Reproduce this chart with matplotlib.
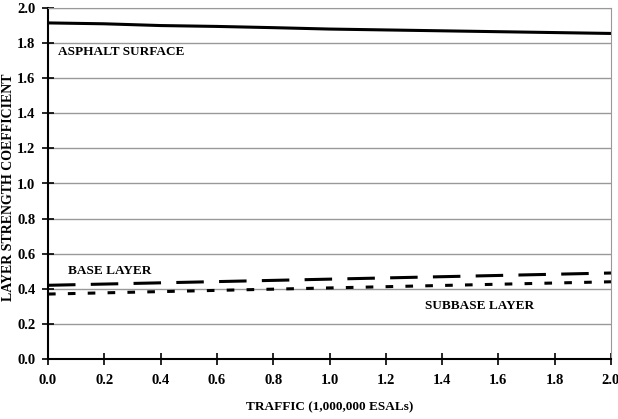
import numpy as np
import matplotlib.pyplot as plt

plt.rcParams['font.family'] = 'Liberation Serif'
plt.rcParams['font.weight'] = 'bold'

traffic = [0.0, 0.2, 0.4, 0.6, 0.8, 1.0, 1.2, 1.4, 1.6, 1.8, 2.0]
asphalt = [1.915, 1.91, 1.90, 1.895, 1.888, 1.880, 1.875, 1.870, 1.865, 1.860, 1.855]
base = [0.42, 0.427, 0.434, 0.441, 0.448, 0.455, 0.462, 0.469, 0.476, 0.483, 0.49]
subbase = [0.37, 0.377, 0.384, 0.391, 0.398, 0.405, 0.412, 0.419, 0.426, 0.433, 0.44]

fig = plt.figure(figsize=(6.18, 4.19), dpi=100)
ax = fig.add_axes([48/618, 1 - 359/419, (611-48)/618, (359-8)/419])

ax.plot(traffic, asphalt, 'k-', lw=2.2)
ax.plot(traffic, base, color='k', lw=2.2, dashes=(9, 5))
ax.plot(traffic, subbase, color='k', lw=2.2, dashes=(2.5, 4))

ax.text(0.036, 1.75, 'ASPHALT SURFACE', fontsize=9.5, fontweight='bold', va='center')
ax.text(0.07, 0.50, 'BASE LAYER', fontsize=9.5, fontweight='bold', va='center')
ax.text(1.34, 0.30, 'SUBBASE LAYER', fontsize=9.5, fontweight='bold', va='center')

ax.set_xlim(0, 2.0)
ax.set_ylim(0, 2.0)
ax.set_xticks(np.arange(0, 2.01, 0.2))
ax.set_yticks(np.arange(0, 2.01, 0.2))
ax.xaxis.set_major_formatter(plt.FormatStrFormatter('%.1f'))
ax.yaxis.set_major_formatter(plt.FormatStrFormatter('%.1f'))
ax.tick_params(direction='inout', length=8, width=1.2, labelsize=10.5)
ax.tick_params(axis='x', pad=7)
ax.tick_params(axis='y', pad=5)
ax.grid(axis='y', color='#999999', lw=1)
ax.set_axisbelow(True)

ax.spines['left'].set_linewidth(1.5)
ax.spines['bottom'].set_linewidth(1.5)
ax.spines['top'].set_color('#999999')
ax.spines['right'].set_color('#999999')

ax.set_xlabel('TRAFFIC (1,000,000 ESALs)', fontsize=9.5, fontweight='bold', labelpad=10)
fig.text(9/618, 1 - 187/419, 'LAYER STRENGTH COEFFICIENT', rotation=90,
         ha='center', va='center', fontsize=10, fontweight='bold')

fig.savefig('out.png', dpi=100)
